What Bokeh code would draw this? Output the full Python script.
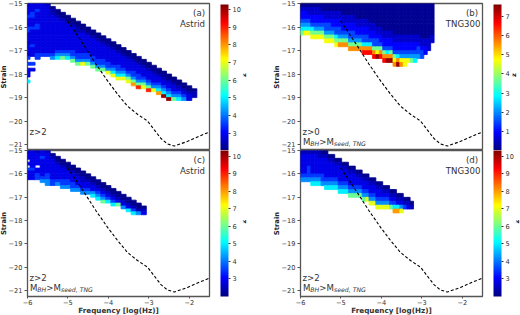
import math
from bokeh.plotting import figure
from bokeh.layouts import column, row
from bokeh.models import ColumnDataSource, LinearColorMapper, ColorBar, FixedTicker, Label, LinearAxis
from bokeh.embed import file_html
from bokeh.resources import INLINE

# ---------- data ----------
X_TICKS = [-6, -5, -4, -3, -2]
Y_TICKS = [-21, -20, -19, -18, -17, -16, -15]

CURVE_X = [-5.01, -4.85, -4.6, -4.31, -4.02, -3.77, -3.53, -3.28, -3.03, -2.87, -2.70, -2.54, -2.37, -2.04, -1.71, -1.51]
CURVE_Y = [-15.74, -16.14, -16.79, -17.57, -18.29, -18.86, -19.36, -19.71, -20.0, -20.36, -20.74, -20.97, -21.06, -20.86, -20.61, -20.47]

# colour code of a cell -> z value (one list per colour bar range)
Z_A = [2.1, 2.5, 2.85, 3.5, 4.2, 5, 6, 7, 8, 9, 10.1]
Z_B = [0.2, 0.6, 1.0, 1.5, 2.1, 2.8, 3.7, 4.7, 5.6, 6.6, 7.4]
CODES = "0123456789X"

TOP_A = [0, 0, 0, 0, 0, 1, 2, 3, 4, 5, 6, 7, 8, 9, 10, 11, 12, 13, 14, 15, 16, 17, 18, 19, 20, 21, 22, 23, 24, 25, 26, 27, 28, 29]
CELLS_A = ["1222322233122122213.3.222.5", "222332223222223222..3.2", "2232222332222222233", "222222222222222223",
           "122222222222222223", "011222222222222234", "00122222222222345", "0012222222222346", "001222222222345",
           "001222222223346", "001122222223346", "00122222223347", "0012222223346", "0012222223346", "0012222223346",
           "001222223346", "001222223347", "001222223457", "001222233457", "00122223457", "00122223467", "00122233468",
           "00122233469", "0012223467", "0012223469", "001222347", "001223458", "00122345X", "00122345X", "00122346",
           "0012345", "001234", "00122", "011"]

TOP_B = [0] * 39
CELLS_B = ["01223456", "01223457", "01123457", "011223567", "011223467", "011223467", "001223467", "0011233467",
           "0011233467", "0011223467", "00112233567", "00112233468", "00011223468", "00011223468", "000112233468",
           "000112233468", "000011223468", "000011223468", "0000112233589", "0000112233589", "0000011223589",
           "00000112233689", "0000001123367X", "00000011223689", "000000011223689", "00000001122358X",
           "00000001122368X", "0000000011223678", "000000001122358X", "0000000011223478", "0000000011223477",
           "000000001122347", "000000001122346", "000000001122345", "00000000112334", "00000000011233",
           "0000000001122", "000000000111", "0000000011"]

TOP_C = [0, 0, 0, 0, 0, 1, 2, 3, 4, 5, 6, 7, 8, 9, 10, 11, 12, 13, 14, 15, 16, 17, 18, 19]
CELLS_C = ["122.2.3222", "2222223222", "12222.2233", "22322222234", "122222223344", "01222222233", "0012222234",
           "0012222334", "001222334", "001222334", "00122234", "00112234", "0012234", "0012245", "0012345", "0012346",
           "001235", "001235", "00126", "00124", "00125", "00135", "0014", "012"]

TOP_D = [0, 0, 0, 0, 0, 0, 0, 0, 1, 1, 2, 2, 3, 3, 4, 4, 5, 5, 6, 6, 7, 7, 8, 8, 9, 9, 10, 10, 11, 11, 12, 12, 13]
CELLS_D = ["12222234", "12222234", "12223334", "122222345", "122222345", "112222345", "012222334", "0122222345",
           "012222345", "012222345", "01222345", "012222345", "01222345", "01222345", "01222346", "01222346", "0122346",
           "0122346", "0122346", "0122347", "0122347", "0122347", "0122347", "0122347", "012347", "012347", "01236",
           "012358", "01258", "01247", "013", "012", "01"]

# ---------- styling ----------
FRAME = "#555555"
TXT = "#333333"
FONT = "DejaVu Sans"


def jet():
    out = []
    for i in range(256):
        v = i / 255
        r = min(max(min(4 * v - 1.5, -4 * v + 4.5), 0), 1)
        g = min(max(min(4 * v - 0.5, -4 * v + 3.5), 0), 1)
        b = min(max(min(4 * v + 0.5, -4 * v + 2.5), 0), 1)
        out.append("#%02x%02x%02x" % (round(r * 255), round(g * 255), round(b * 255)))
    return out


JET = jet()


def add_cells(p, tops, cells, levels, x0, dx, dy, mapper):
    left, right, top, bottom, z = [], [], [], [], []
    for i, (t, s) in enumerate(zip(tops, cells)):
        for k, ch in enumerate(s):
            if ch == ".":
                continue
            j = t + k
            left.append(x0 + dx * i)
            right.append(x0 + dx * (i + 1))
            top.append(-15 - dy * j)
            bottom.append(-15 - dy * (j + 1))
            z.append(levels[CODES.index(ch)])
    src = ColumnDataSource(dict(left=left, right=right, top=top, bottom=bottom, z=z))
    c = {"field": "z", "transform": mapper}
    p.quad(left="left", right="right", top="top", bottom="bottom", source=src,
           fill_color=c, line_color=c, line_width=0.8)


def label(p, x, y, text, align="left", size="8.6px", style="normal", xo=0, yo=0, color=TXT):
    p.add_layout(Label(x=x, y=y, text=text, text_align=align, text_baseline="middle",
                       text_font=FONT, text_font_size=size, text_font_style=style,
                       text_color=color, x_offset=xo, y_offset=yo))


def mass_label(p, x, y):
    label(p, x, y, "M")
    label(p, x, y, "BH", size="6.2px", style="italic", xo=7.4, yo=-2)
    label(p, x, y, ">M", xo=16.4)
    label(p, x, y, "seed, TNG", size="6.2px", style="italic", xo=31, yo=-2)


def panel(letter, name, ztext, mass, tops, cells, levels, zlow, zhigh, zticks, x0, dx, dy,
          left_border, right_border, bottom_row, strain_standoff, z_standoff, name_x):
    p = figure(frame_width=182, frame_height=146 if bottom_row else 147,
               x_range=(-6, -1.5), y_range=(-21.25, -15),
               output_backend="svg", toolbar_location=None,
               min_border_left=left_border, min_border_right=right_border,
               min_border_top=6 if bottom_row else 3, min_border_bottom=19 if bottom_row else 0,
               background_fill_color="white", border_fill_alpha=0)
    p.grid.visible = False
    p.outline_line_color = FRAME
    p.outline_line_width = 1.3

    mapper = LinearColorMapper(palette=JET, low=zlow, high=zhigh)
    add_cells(p, tops, cells, levels, x0, dx, dy, mapper)
    p.line(CURVE_X, CURVE_Y, line_color="black", line_width=1.1, line_dash="3 2")

    for ax in (p.xaxis[0], p.yaxis[0]):
        ax.axis_line_color = None
        ax.major_tick_line_color = FRAME
        ax.major_tick_out = 3
        ax.major_tick_in = 0
        ax.minor_tick_line_color = None
        ax.major_label_text_font = FONT
        ax.major_label_text_font_size = "6.6px"
        ax.major_label_text_color = TXT
        ax.major_label_standoff = 2
    p.yaxis.ticker = FixedTicker(ticks=Y_TICKS)
    p.yaxis.major_label_overrides = {t: "\u2212%d" % abs(t) for t in Y_TICKS}
    p.yaxis.axis_label = "Strain"
    p.yaxis.axis_label_text_font = FONT
    p.yaxis.axis_label_text_font_style = "bold"
    p.yaxis.axis_label_text_font_size = "6.8px"
    p.yaxis.axis_label_text_color = "#222222"
    p.yaxis.axis_label_standoff = strain_standoff
    p.xaxis.ticker = FixedTicker(ticks=X_TICKS)
    p.xaxis.major_label_overrides = {t: "\u2212%d" % abs(t) for t in X_TICKS}
    if bottom_row:
        p.xaxis.major_tick_out = 2
        p.xaxis.major_label_standoff = 1
        p.xaxis.axis_label = "Frequency [log(Hz)]"
        p.xaxis.axis_label_text_font = FONT
        p.xaxis.axis_label_text_font_style = "bold"
        p.xaxis.axis_label_text_font_size = "7.2px"
        p.xaxis.axis_label_text_color = TXT
        p.xaxis.axis_label_standoff = -2
    else:
        p.xaxis.visible = False

    bar = ColorBar(color_mapper=mapper, ticker=FixedTicker(ticks=zticks), width=8, height=146,
                   padding=0, margin=0, location=(11, 0), major_tick_in=0, major_tick_out=2,
                   major_tick_line_color=TXT, minor_tick_line_color=None, bar_line_color=None,
                   major_label_text_font=FONT, major_label_text_font_size="6.6px",
                   major_label_text_color=TXT, label_standoff=2, title=None)
    p.add_layout(bar, "right")

    zaxis = LinearAxis(axis_label="z", axis_line_color=None, major_tick_line_color=None,
                       minor_tick_line_color=None, major_label_text_font_size="0px",
                       ticker=FixedTicker(ticks=[]),
                       axis_label_standoff=z_standoff, axis_label_text_font=FONT,
                       axis_label_text_font_style="bold", axis_label_text_font_size="6.8px",
                       axis_label_text_color="#222222", axis_label_orientation=math.pi / 2)
    p.add_layout(zaxis, "right")

    label(p, -1.61, -15.39, letter, align="right")
    label(p, name_x, -15.86, name, align="right")
    label(p, -5.95, -20.45, ztext)
    if mass:
        mass_label(p, -5.94, -20.87)
    return p


Z_TICKS_A = [3, 4, 5, 6, 7, 8, 9, 10]
Z_TICKS_B = [1, 2, 3, 4, 5, 6, 7]

a = panel("(a)", "Astrid", "z>2", False, TOP_A, CELLS_A, Z_A, 2.03, 10.28, Z_TICKS_A,
          -6.0625, 0.125, 0.125, 27, 51, False, -2, 0, -1.61)
b = panel("(b)", "TNG300", "z>0", True, TOP_B, CELLS_B, Z_B, 0.03, 7.6, Z_TICKS_B,
          -6.0, 0.0847, 0.167, 40, 38, False, -2, 1, -1.55)
c = panel("(c)", "Astrid", "z>2", True, TOP_C, CELLS_C, Z_A, 2.0, 10.33, Z_TICKS_A,
          -6.0625, 0.125, 0.125, 27, 51, True, -2, 0, -1.61)
d = panel("(d)", "TNG300", "z>2", True, TOP_D, CELLS_D, Z_A, 2.0, 10.33, Z_TICKS_A,
          -6.0, 0.0847, 0.167, 40, 38, True, -2, 0, -1.55)

top_row = row(a, b, spacing=0)
bottom_row = row(c, d, spacing=0, margin=(-6, 0, 0, 0))
root = column(top_row, bottom_row, spacing=0,
              styles={"position": "absolute", "left": "-4px", "top": "0px"})

open("out.html", "w").write(file_html(root, INLINE))
